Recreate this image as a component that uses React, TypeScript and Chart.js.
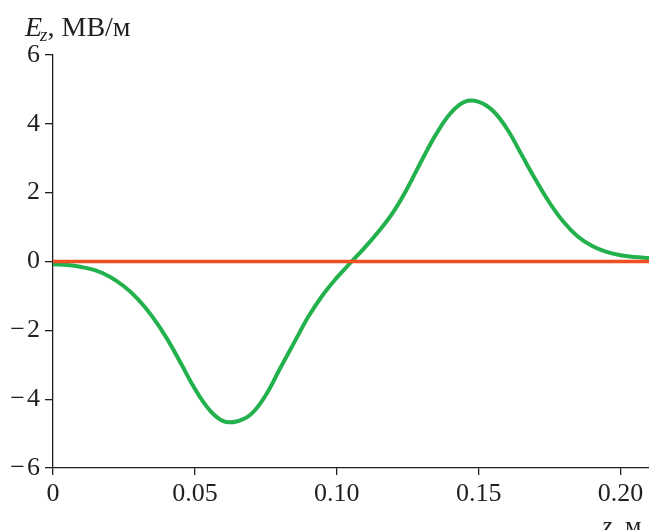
import React, { useEffect, useRef } from 'react';
import { Chart, registerables } from 'chart.js';

Chart.register(...registerables);

// Data
const zValues = [0, 0.005, 0.01, 0.015, 0.02, 0.025, 0.03, 0.035, 0.04, 0.045, 0.05, 0.055, 0.06, 0.065, 0.07, 0.075, 0.08, 0.085, 0.09, 0.095, 0.1, 0.105, 0.11, 0.115, 0.12, 0.125, 0.13, 0.135, 0.14, 0.145, 0.15, 0.155, 0.16, 0.165, 0.17, 0.175, 0.18, 0.185, 0.19, 0.195, 0.2, 0.205, 0.21];
const ezValues = [-0.08, -0.1, -0.16, -0.26, -0.44, -0.72, -1.1, -1.6, -2.22, -2.95, -3.7, -4.3, -4.64, -4.64, -4.42, -3.88, -3.11, -2.35, -1.6, -0.98, -0.47, -0.02, 0.42, 0.9, 1.45, 2.15, 2.95, 3.7, 4.3, 4.64, 4.64, 4.38, 3.85, 3.12, 2.38, 1.7, 1.14, 0.72, 0.45, 0.28, 0.18, 0.13, 0.1];
const zeroLineZ = [0, 0.21];
const zeroLineE = [0, 0];
const xTickValues = [0, 0.05, 0.1, 0.15, 0.2];
const xTickLabels = ['0', '0.05', '0.10', '0.15', '0.20'];
const yTickValues = [-6, -4, -2, 0, 2, 4, 6];
const yTickLabels = ['\u2212\u200A6', '\u2212\u200A4', '\u2212\u200A2', '0', '2', '4', '6'];
const yTitleMain = 'E';
const yTitleSub = 'z';
const yTitleRest = ', МВ/м';
const xTitleMain = 'z';
const xTitleRest = ', м';

const TEXT = '#231f20';
const FONT = '"Liberation Serif", "Times New Roman", serif';

const titlePlugin = {
  id: 'axisTitles',
  afterDraw(chart: any) {
    const ctx = chart.ctx;
    ctx.save();
    ctx.fillStyle = TEXT;
    ctx.textBaseline = 'alphabetic';
    ctx.textAlign = 'left';
    // y title
    let x = 25;
    ctx.font = `italic 28px ${FONT}`;
    ctx.fillText(yTitleMain, x, 36);
    x += ctx.measureText(yTitleMain).width - 2;
    ctx.font = `italic 19px ${FONT}`;
    ctx.fillText(yTitleSub, x, 41);
    x += ctx.measureText(yTitleSub).width;
    ctx.font = `28px ${FONT}`;
    ctx.fillText(yTitleRest, x, 36);
    // x title
    x = 602;
    ctx.font = `italic 26px ${FONT}`;
    ctx.fillText(xTitleMain, x, 534);
    x += ctx.measureText(xTitleMain).width;
    ctx.font = `26px ${FONT}`;
    ctx.fillText(xTitleRest, x, 534);
    ctx.restore();
  },
};

export default function App() {
  const ref = useRef<HTMLCanvasElement | null>(null);

  useEffect(() => {
    if (!ref.current) return;
    const chart = new Chart(ref.current, {
      type: 'line',
      data: {
        datasets: [
          {
            label: 'zero',
            data: zeroLineZ.map((z, i) => ({ x: z, y: zeroLineE[i] })),
            borderColor: '#f04e23',
            borderWidth: 3.5,
            pointRadius: 0,
            fill: false,
          },
          {
            label: 'Ez',
            data: zValues.map((z, i) => ({ x: z, y: ezValues[i] })),
            borderColor: '#22b14c',
            borderWidth: 4,
            pointRadius: 0,
            fill: false,
            tension: 0.4,
          },
        ],
      },
      options: {
        responsive: false,
        animation: false,
        devicePixelRatio: 1,
        layout: { padding: { top: 55, left: 0, right: 0, bottom: 0 } },
        plugins: { legend: { display: false }, tooltip: { enabled: false } },
        scales: {
          x: {
            type: 'linear',
            min: 0,
            max: 0.21,
            afterBuildTicks: (scale: any) => {
              scale.ticks = xTickValues.map((v) => ({ value: v }));
            },
            afterFit: (scale: any) => {
              scale.height = 62;
            },
            ticks: {
              autoSkip: false,
              maxRotation: 0,
              padding: 4,
              color: TEXT,
              font: { family: FONT, size: 26 },
              callback: (_v: any, i: number) => xTickLabels[i],
            },
            grid: {
              drawOnChartArea: false,
              drawTicks: true,
              tickLength: 7,
              color: TEXT,
              lineWidth: 1.3,
            },
            border: { display: true, color: TEXT, width: 1.3 },
          },
          y: {
            type: 'linear',
            min: -6,
            max: 6,
            afterBuildTicks: (scale: any) => {
              scale.ticks = yTickValues.map((v) => ({ value: v }));
            },
            afterFit: (scale: any) => {
              scale.width = 53;
            },
            ticks: {
              autoSkip: false,
              padding: 5,
              color: TEXT,
              font: { family: FONT, size: 26 },
              callback: (_v: any, i: number) => yTickLabels[i],
            },
            grid: {
              drawOnChartArea: false,
              drawTicks: true,
              tickLength: 8,
              color: TEXT,
              lineWidth: 1.3,
            },
            border: { display: true, color: TEXT, width: 1.3 },
          },
        },
      },
      plugins: [titlePlugin],
    } as any);
    return () => chart.destroy();
  }, []);

  return (
    <div style={{ position: 'fixed', left: 0, top: 0, width: 649, height: 530, background: '#fff' }}>
      <canvas ref={ref} width={649} height={530} style={{ display: 'block' }} />
    </div>
  );
}
